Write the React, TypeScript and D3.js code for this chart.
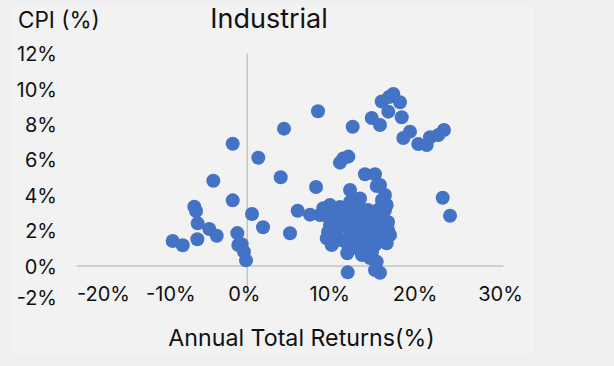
import React from "react";
import * as d3 from "d3";

const returns: number[] = [
  -8.74, -7.56, -5.85, -6.21, -6.0, -5.81, -4.45, -3.58, -3.98, -1.71,
  -1.71, -1.17, -1.05, -0.66, -0.39, -0.15, 0.55, 1.29, 1.84, 4.3,
  3.91, 5.0, 8.28, 8.05, 5.9, 7.34, 12.34, 11.24, 10.85, 11.83,
  12.03, 11.71, 11.76, 17.1, 15.74, 17.88, 16.51, 14.57, 15.54, 18.08,
  19.05, 18.27, 20.02, 21.0, 21.4, 22.37, 23.03, 16.6, 22.88, 23.74,
  13.78, 14.95, 15.15, 16.12, 13.2, 9.68, 8.9, 12.03, 16.32, 15.74,
  16.71, 9.3, 9.88, 15.15, 15.54, 14.95, 13.58, 14.17, 16.32,
  10.85, 9.68, 10.5, 12.57, 12.96, 11.44, 13.43, 14.72, 15.3, 15.77,
  15.54, 15.19, 15.54, 16.12, 13.78, 12.85, 11.44, 10.27, 12.26, 14.37,
  14.13, 14.95, 13.08, 12.03, 11.09, 14.6, 13.4, 16.48, 8.51,
  9.1, 10.04, 9.45, 10.85, 11.79, 12.61, 13.2, 13.9, 14.6, 15.54,
  16.12, 16.48, 13.43, 14.37, 12.61, 10.85, 12.03, 14.13, 15.3, 9.92,
];
const cpi: number[] = [
  1.41, 1.17, 1.51, 3.35, 3.11, 2.41, 2.09, 1.71, 4.82, 6.91,
  3.71, 1.86, 1.19, 1.23, 0.81, 0.32, 2.94, 6.12, 2.19, 7.76,
  5.01, 1.85, 8.74, 4.46, 3.12, 2.9, 7.87, 6.08, 5.84, 6.18,
  4.29, 0.72, -0.36, 9.72, 9.29, 9.25, 8.72, 8.36, 7.97, 8.4,
  7.59, 7.23, 6.89, 6.84, 7.27, 7.4, 7.68, 9.55, 3.86, 2.84,
  5.18, 5.18, 4.52, 4.01, 3.82, 3.45, 3.26, 3.26, 3.45, 2.98,
  1.75, 1.56, 1.19, 0.24, -0.38, -0.23, 0.81, 1.09, 1.28,
  2.82, 2.32, 1.64, 2.03, 2.49, 3.05, 2.88, 2.88, 3.16, 3.73,
  4.58, 2.32, 1.92, 1.58, 1.3, 1.02, 1.47, 2.03, 2.6, 2.03,
  1.58, 1.19, 3.45, 2.03, 2.26, 0.79, 1.75, 2.49, 2.88,
  2.88, 3.05, 1.92, 1.47, 1.19, 1.58, 2.15, 2.49, 1.75, 2.6,
  3.16, 2.03, 0.62, 0.45, 2.88, 3.33, 3.62, 3.16, 1.47, 2.6,
];
const xTicks: number[] = [-20, -10, 0, 10, 20, 30];
const yTicks: number[] = [-2, 0, 2, 4, 6, 8, 10, 12];
const title = "Industrial";
const yTitle = "CPI (%)";
const xTitle = "Annual Total Returns(%)";

const FONT = "Inter, 'Liberation Sans', sans-serif";

export default function App() {
  const W = 614, H = 366;
  const x = d3.scaleLinear().domain([-20, 30]).range([76.5, 503.5]);
  const y = d3.scaleLinear().domain([-2, 12]).range([301.4, 53.6]);
  const points = returns.map((r, i) => ({ r, c: cpi[i] }));
  const xNudge = (v: number) => (v === -20 ? 27 : v === -10 ? 9 : -3);
  const yNudge = (v: number) => (v === -2 ? -3 : v === 0 ? 1 : 0.5);
  return (
    <svg width={W} height={H} style={{ position: "absolute", left: 0, top: 0 }}>
      <rect x={0} y={0} width={W} height={H} fill="#f0f0f2" />
      <rect x={14} y={7} width={518} height={346} fill="#f2f2f2" stroke="#f5f5f5" />
      <text x={269} y={28} textAnchor="middle" fontFamily={FONT} fontSize={27} fill="#111">
        {title}
      </text>
      <text x={18} y={28} fontFamily={FONT} fontSize={22.5} fill="#111">
        {yTitle}
      </text>
      <line x1={x(-20)} x2={x(30)} y1={y(0)} y2={y(0)} stroke="#c4c4c4" strokeWidth={1.5} />
      <line x1={x(0)} x2={x(0)} y1={y(12)} y2={y(-2)} stroke="#c4c4c4" strokeWidth={1.5} />
      {yTicks.map((v) => (
        <text key={"y" + v} x={57} y={y(v) + yNudge(v)} dy="0.35em" textAnchor="end"
          fontFamily={FONT} fontSize={20} fill="#111">
          {v + "%"}
        </text>
      ))}
      {xTicks.map((v) => (
        <text key={"x" + v} x={x(v) + xNudge(v)} y={301} textAnchor="middle"
          fontFamily={FONT} fontSize={20} fill="#111">
          {v + "%"}
        </text>
      ))}
      <text x={301.5} y={346} textAnchor="middle" fontFamily={FONT} fontSize={23.2} fill="#111">
        {xTitle}
      </text>
      {points.map((p, i) => (
        <circle key={i} cx={x(p.r)} cy={y(p.c)} r={7} fill="#4472c4" />
      ))}
    </svg>
  );
}
